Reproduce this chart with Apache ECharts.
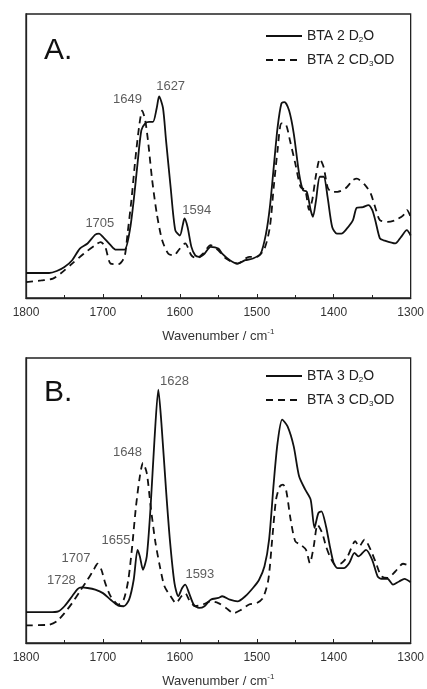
<!DOCTYPE html>
<html>
<head>
<meta charset="utf-8">
<script src="https://cdn.jsdelivr.net/npm/echarts@6/dist/echarts.min.js"></script>
<style>
  html, body { margin: 0; padding: 0; background: #fff; overflow: hidden; }
  #main { width: 427px; height: 689px; }
</style>
</head>
<body>
<div id="main"></div>
<script>
// wavenumber (cm-1), intensity (a.u., 0 = panel bottom, 100 = panel top)
var bta2D2O = [
  [1800, 8.8], [1770, 8.8], [1760, 9.5], [1750, 10.9], [1740, 13.3], [1730, 17.4], [1720, 19.2],
  [1710, 22.3], [1705, 22.7], [1700, 21.5], [1690, 18.6], [1683, 17.0], [1672, 17.0], [1665, 23.9],
  [1660, 34.4], [1655, 47.4], [1650, 59.1], [1645, 61.5], [1640, 62], [1635, 62], [1630, 67],
  [1627, 71], [1622, 67], [1618, 55.6], [1612, 39], [1606, 23.9], [1600, 22], [1596, 26],
  [1594, 28], [1590, 25], [1585, 18], [1580, 15], [1575, 14.5], [1568, 15.6], [1560, 18],
  [1550, 17.4], [1545, 15.6], [1535, 13.3], [1525, 12.1], [1515, 13.3], [1505, 13.9], [1495, 15.6],
  [1488, 22.7], [1483, 32], [1478, 46], [1473, 60], [1468, 68.5], [1464, 69], [1458, 66],
  [1452, 58], [1445, 43.8], [1440, 38], [1435, 37.4], [1430, 31], [1427, 28.6], [1423, 34.4],
  [1418, 42.7], [1413, 42.7], [1408, 35.6], [1402, 25], [1396, 22.7], [1390, 22.7], [1383, 24.4],
  [1375, 27.4], [1370, 31.8], [1362, 32], [1355, 32.7], [1350, 31], [1346, 27.4], [1340, 21],
  [1335, 20.3], [1320, 19.2], [1313, 21.3], [1305, 23.9], [1300, 22]
];
var bta2CD3OD = [
  [1800, 5.6], [1780, 6.2], [1765, 6.8], [1755, 8.6], [1740, 12.1], [1725, 15.6], [1710, 18.6],
  [1703, 19.7], [1697, 18], [1690, 12.1], [1680, 11.9], [1672, 14.5], [1668, 22.7], [1663, 34.4],
  [1658, 48.5], [1653, 60.3], [1649, 66], [1645, 62.5], [1641, 54.4], [1636, 41.5], [1630, 29.7],
  [1623, 20.3], [1615, 15.6], [1608, 15], [1600, 17.4], [1593, 19.2], [1585, 15], [1578, 13.9],
  [1570, 15.6], [1560, 18.6], [1550, 16.8], [1540, 13.9], [1525, 12.1], [1510, 14.5], [1500, 14.5],
  [1490, 17.4], [1483, 25], [1478, 39], [1473, 52], [1468, 61.5], [1462, 61], [1457, 55.6],
  [1450, 47.4], [1443, 39], [1437, 38], [1432, 31], [1428, 34.4], [1423, 43.3], [1418, 49],
  [1413, 46], [1408, 39], [1403, 37.4], [1395, 37.4], [1385, 38.5], [1375, 41.5], [1370, 42],
  [1360, 40], [1352, 36.8], [1345, 31], [1340, 27.4], [1330, 26.8], [1320, 27.4], [1310, 29],
  [1305, 31], [1300, 28.6]
];
var bta3D2O = [
  [1800, 10.8], [1770, 10.8], [1758, 11.1], [1750, 12.9], [1740, 16.4], [1733, 18.9], [1728, 19.5],
  [1720, 19.3], [1710, 18.7], [1700, 17.5], [1690, 15.2], [1680, 13.1], [1673, 12.9], [1666, 15.2],
  [1660, 22.2], [1655, 32.7], [1652, 30.4], [1648, 25.7], [1643, 30.4], [1638, 48], [1633, 71.3],
  [1628, 88.9], [1624, 77.2], [1618, 53.8], [1613, 36.3], [1607, 21], [1602, 16.4], [1597, 19.3],
  [1593, 20.5], [1588, 17.5], [1582, 13.5], [1575, 12.3], [1568, 12.9], [1560, 15.2], [1550, 15.8],
  [1545, 16.4], [1535, 15.2], [1525, 14.6], [1515, 16.4], [1505, 19.3], [1497, 22.2], [1490, 26.9],
  [1484, 36.3], [1478, 56.1], [1473, 70.2], [1467, 78.4], [1460, 76], [1452, 69], [1445, 58.5],
  [1437, 53.8], [1430, 50.3], [1425, 40.4], [1420, 45.6], [1416, 46.2], [1410, 40.9], [1405, 33.9],
  [1400, 28], [1395, 26.3], [1387, 26.3], [1380, 28], [1373, 31.6], [1368, 30.4], [1358, 32.7],
  [1350, 29.2], [1343, 23.4], [1338, 22.5], [1330, 22.5], [1323, 20.5], [1315, 21.6], [1308, 22.5],
  [1300, 21.3]
];
var bta3CD3OD = [
  [1800, 6.2], [1770, 6.4], [1760, 7.6], [1750, 10.5], [1740, 14], [1730, 18.1], [1720, 22.2],
  [1712, 25.7], [1707, 27.8], [1702, 25.7], [1697, 21], [1690, 16.4], [1680, 13.5], [1673, 15.2],
  [1667, 22.2], [1662, 33.9], [1657, 48], [1652, 58.5], [1648, 63.2], [1643, 59.6], [1638, 48],
  [1632, 35.7], [1626, 26.9], [1620, 19.9], [1612, 16.4], [1605, 14], [1598, 16.4], [1593, 17.5],
  [1588, 15.2], [1580, 12.9], [1570, 13.5], [1560, 14.6], [1550, 14], [1540, 12.3], [1530, 10.5],
  [1520, 11.7], [1510, 13.5], [1500, 14], [1492, 15.8], [1485, 22.2], [1480, 36.3], [1475, 50.3],
  [1470, 55], [1466, 55.6], [1462, 53.8], [1456, 43.3], [1450, 35.7], [1443, 34.5], [1436, 32.7],
  [1431, 28], [1426, 33.9], [1421, 41.5], [1415, 38.6], [1410, 33.9], [1405, 30.4], [1398, 27.5],
  [1390, 28], [1382, 30.4], [1372, 35.7], [1367, 33.9], [1360, 36.3], [1352, 32.7], [1345, 28],
  [1338, 23.4], [1330, 22.8], [1320, 25.1], [1310, 27.8], [1300, 26.9]
];

// peak labels: [wavenumber, intensity, text]
var peaksA = [[1704, 26.2, '1705'], [1668, 70, '1649'], [1612, 74.6, '1627'], [1578, 30.7, '1594']];
var peaksB = [[1607, 91.8, '1628'], [1668, 66.7, '1648'], [1683, 35.9, '1655'],
              [1735, 29.8, '1707'], [1754, 22, '1728'], [1574, 24, '1593']];

var FONT = '"Liberation Sans", Arial, sans-serif';
var chart = echarts.init(document.getElementById('main'));

function xAxisFor(idx) {
  return {
    type: 'value', gridIndex: idx, min: 1300, max: 1800, interval: 100, inverse: true,
    name: 'Wavenumber / cm{sup|-1}', nameLocation: 'middle', nameGap: 30,
    nameTextStyle: {
      fontFamily: FONT, fontSize: 13, color: '#333',
      rich: { sup: { fontFamily: FONT, fontSize: 8, color: '#333', padding: [0, 0, 8, 0] } }
    },
    axisLine: { show: true, lineStyle: { color: '#222', width: 1.3 } },
    axisTick: { show: true, inside: true, length: 4, lineStyle: { color: '#222' } },
    minorTick: { show: true, splitNumber: 2, length: 3, lineStyle: { color: '#222' } },
    axisLabel: { fontFamily: FONT, fontSize: 12, color: '#333', margin: 9,
      formatter: function (v) { return String(v); } },
    splitLine: { show: false }
  };
}
function yAxisFor(idx) {
  return {
    type: 'value', gridIndex: idx, min: 0, max: 100,
    axisLine: { show: true, lineStyle: { color: '#222', width: 1.3 } },
    axisTick: { show: false }, axisLabel: { show: false }, splitLine: { show: false }
  };
}
function lineSeries(name, data, idx, dashed) {
  return {
    name: name, type: 'line', xAxisIndex: idx, yAxisIndex: idx, data: data,
    symbol: 'none', smooth: 0.25, animation: false,
    lineStyle: { color: '#111', width: 1.8, type: dashed ? [7, 5] : 'solid' },
    itemStyle: { color: '#111' }
  };
}
function peakSeries(peaks, idx) {
  return {
    type: 'scatter', xAxisIndex: idx, yAxisIndex: idx, symbolSize: 0, animation: false,
    data: peaks.map(function (p) { return { value: [p[0], p[1]], name: p[2] }; }),
    label: {
      show: true, position: 'inside', formatter: '{b}',
      fontFamily: FONT, fontSize: 13, color: '#333'
    },
    silent: true
  };
}
var legendText = {
  fontFamily: FONT, fontSize: 14, color: '#222',
  rich: { sub: { fontFamily: FONT, fontSize: 8, color: '#222', padding: [8, 0, 0, 0] } }
};
function legendFor(names, top) {
  return {
    data: names, orient: 'vertical', left: 260, top: top, itemWidth: 36, itemHeight: 14,
    itemGap: 9, textStyle: legendText, selectedMode: false,
    itemStyle: { color: 'rgba(0,0,0,0)', borderWidth: 0, opacity: 0 },
    lineStyle: { width: 2 },
    formatter: function (n) {
      return n.indexOf('CD3OD') > 0 ? n.replace('CD3OD', 'CD{sub|3}OD') : n.replace('D2O', 'D{sub|2}O');
    }
  };
}

chart.setOption({
  backgroundColor: '#fff',
  grid: [
    { left: 26, top: 14, right: 13, height: 284, show: true, borderColor: '#222', borderWidth: 1.3 },
    { left: 26, top: 358, right: 13, height: 285, show: true, borderColor: '#222', borderWidth: 1.3 }
  ],
  xAxis: [xAxisFor(0), xAxisFor(1)],
  yAxis: [yAxisFor(0), yAxisFor(1)],
  legend: [legendFor(['BTA 2 D2O', 'BTA 2 CD3OD'], 24), legendFor(['BTA 3 D2O', 'BTA 3 CD3OD'], 364)],
  graphic: [
    { type: 'text', left: 44, top: 36, style: { text: 'A.', font: '30px ' + FONT, fill: '#111' } },
    { type: 'text', left: 44, top: 378, style: { text: 'B.', font: '30px ' + FONT, fill: '#111' } }
  ],
  series: [
    lineSeries('BTA 2 D2O', bta2D2O, 0, false),
    lineSeries('BTA 2 CD3OD', bta2CD3OD, 0, true),
    peakSeries(peaksA, 0),
    lineSeries('BTA 3 D2O', bta3D2O, 1, false),
    lineSeries('BTA 3 CD3OD', bta3CD3OD, 1, true),
    peakSeries(peaksB, 1)
  ]
});
</script>
</body>
</html>
